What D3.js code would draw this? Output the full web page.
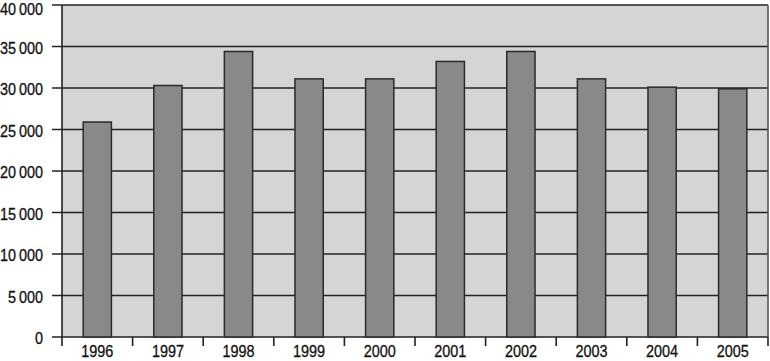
<!DOCTYPE html>
<html>
<head>
<meta charset="utf-8">
<script src="https://cdn.jsdelivr.net/npm/d3@7"></script>
<style>
body { margin: 0; background: #fff; }
text { font-family: "Liberation Sans", Arial, sans-serif; font-size: 16px; fill: #111; stroke: #111; stroke-width: 0.3px; }
</style>
</head>
<body>
<svg id="mainSvg" width="770" height="361"></svg>
<script>
var years = ["1996","1997","1998","1999","2000","2001","2002","2003","2004","2005"];
var values = [25900, 30300, 34400, 31100, 31100, 33200, 34400, 31100, 30100, 29900];
var yTicks = [0, 5000, 10000, 15000, 20000, 25000, 30000, 35000, 40000];

// plot area
var margin = {top: 5, right: 2, bottom: 24, left: 62},
width = 770 - margin.left - margin.right,
height = 361 - margin.top - margin.bottom;

var x = d3.scaleBand()
    .domain(years)
    .range([0, width])
    .paddingInner(0.6)
    .paddingOuter(0.3);

var y = d3.scaleLinear().range([height, 0]).domain([0, 40000]);

var fmt = function(d){
	return d3.format(",")(d).replace(",", "\u2009");
};

// squeeze text horizontally, the original uses a narrow face
function narrow(sel){
	sel.each(function(){
		var w = this.getComputedTextLength();
		d3.select(this)
			.attr("textLength", w * 0.9)
			.attr("lengthAdjust", "spacingAndGlyphs");
	});
}

var g = d3.select("#mainSvg")
	.append("g")
	.attr("transform","translate(" + margin.left + "," + margin.top + ")");

// background
g.append("rect")
	.attr("x", 0).attr("y", 0)
	.attr("width", width).attr("height", height)
	.attr("fill", "#d5d5d5");

// gridlines
g.selectAll(".grid")
	.data(yTicks)
	.enter()
	.append("line")
	.attr("class","grid")
	.attr("x1", -10)
	.attr("x2", width)
	.attr("y1", function(d){ return y(d); })
	.attr("y2", function(d){ return y(d); })
	.attr("stroke", "#222")
	.attr("stroke-width", 1.6);

// bars
g.selectAll(".bar")
	.data(values)
	.enter()
	.append("rect")
	.attr("class","bar")
	.attr("x", function(d,i){ return x(years[i]); })
	.attr("y", function(d){ return y(d); })
	.attr("width", x.bandwidth())
	.attr("height", function(d){ return height - y(d); })
	.attr("fill", "#898989")
	.attr("stroke", "#2a2a2a")
	.attr("stroke-width", 1.5);

// side borders
g.append("line")
	.attr("x1", 0).attr("x2", 0).attr("y1", 0).attr("y2", height)
	.attr("stroke", "#222").attr("stroke-width", 1.6);
g.append("line")
	.attr("x1", width).attr("x2", width).attr("y1", 0).attr("y2", height)
	.attr("stroke", "#555").attr("stroke-width", 1.6);

// y labels (top one kept inside the page)
g.selectAll(".ylab")
	.data(yTicks)
	.enter()
	.append("text")
	.attr("class","ylab")
	.attr("x", -19)
	.attr("y", function(d){ return Math.max(y(d) + 7, 10); })
	.attr("text-anchor", "end")
	.text(fmt)
	.call(narrow);

// x ticks at band boundaries
var step = x.step();
var bounds = d3.range(years.length + 1).map(function(i){ return x(years[0]) - x.paddingOuter() * step + i * step; });
g.selectAll(".xtick")
	.data(bounds)
	.enter()
	.append("line")
	.attr("x1", function(d){ return d; })
	.attr("x2", function(d){ return d; })
	.attr("y1", height)
	.attr("y2", height + 9)
	.attr("stroke", "#222")
	.attr("stroke-width", 1.6);

g.selectAll(".xlab")
	.data(years)
	.enter()
	.append("text")
	.attr("class","xlab")
	.attr("x", function(d){ return x(d) + x.bandwidth()/2; })
	.attr("y", height + 19.5)
	.attr("text-anchor", "middle")
	.text(function(d){ return d; })
	.call(narrow);
</script>
</body>
</html>
